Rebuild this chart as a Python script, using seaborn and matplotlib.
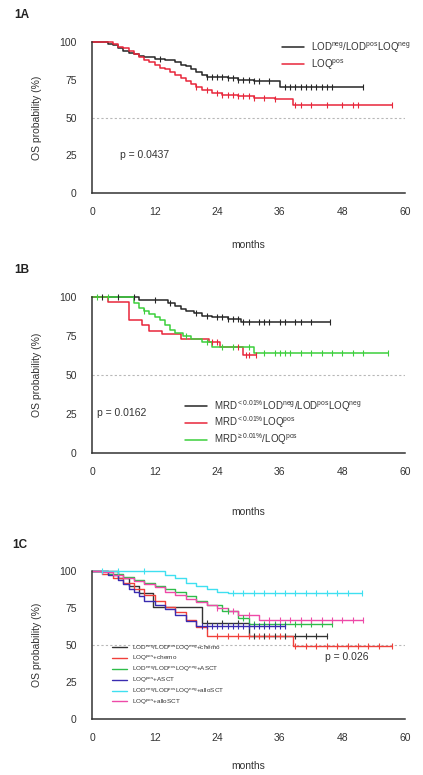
import numpy as np
import pandas as pd
import matplotlib
matplotlib.use("Agg")
import matplotlib.pyplot as plt
import seaborn as sns

# ---------------- data ----------------
x_ticks = [0, 12, 24, 36, 48, 60]
y_ticks = [0, 25, 50, 75, 100]

# Panel 1A
a_black_t = [3, 4, 5, 6, 7, 8, 9, 10, 12, 14, 16, 17, 18, 19, 20, 21, 22, 26, 28, 31, 36]
a_black_s = [99, 98, 96, 94, 93, 92, 91, 90, 89, 88, 87, 85, 84, 82, 80, 78, 77, 76, 75, 74, 70]
a_black_c = [13, 22, 23, 24, 25, 26, 27, 28, 29, 30, 31, 32, 34, 37, 38, 39, 40, 41, 42, 43, 44, 45, 46, 52]
a_red_t = [4, 5, 6, 7, 8, 9, 10, 11, 12, 13, 14, 15, 16, 17, 18, 19, 20, 21, 23, 25, 28, 31, 35, 38.5]
a_red_s = [99, 97, 96, 94, 92, 90, 88, 87, 85, 83, 82, 80, 78, 76, 74, 72, 70, 68, 66, 65, 64, 63, 62, 58]
a_red_c = [20, 22, 24, 25, 26, 27, 28, 29, 30, 31, 33, 35, 39, 40, 42, 45, 48, 50, 51, 57.5]
a_labels = ["LOD$^{neg}$/LOD$^{pos}$LOQ$^{neg}$", "LOQ$^{pos}$"]
a_p = "p = 0.0437"

# Panel 1B
b_black_t = [9, 14.5, 16, 17, 18, 19.5, 21, 23, 26, 28.5]
b_black_s = [98, 96, 94, 92, 91, 90, 88, 87, 86, 84]
b_black_c = [2, 5, 8, 12, 15, 20, 22, 24, 25, 26, 27, 28, 29, 30, 32, 33, 34, 36, 37, 39, 40, 42, 45.6]
b_red_t = [3, 7, 9.5, 11, 13.5, 17, 22.5, 24.5, 29]
b_red_s = [97, 85, 82, 78, 76, 73, 71, 68, 63]
b_red_c = [23, 24, 28, 29.5, 30, 31.5]
b_green_t = [8, 9, 10, 11, 12, 13, 14, 15, 16, 17.5, 19, 21, 23, 31]
b_green_s = [96, 93, 91, 89, 87, 85, 82, 79, 77, 75, 73, 71, 68, 64]
b_green_c = [1, 3, 10, 18, 22, 25, 27, 30, 33, 35, 36, 37, 38, 40, 42, 44, 46, 48, 50, 52, 56.8]
b_labels = ["MRD$^{<0.01\\%}$LOD$^{neg}$/LOD$^{pos}$LOQ$^{neg}$",
            "MRD$^{<0.01\\%}$LOQ$^{pos}$",
            "MRD$^{\\geq0.01\\%}$/LOQ$^{pos}$"]
b_p = "p = 0.0162"

# Panel 1C
c_black_t = [5, 7, 9, 11.7, 21, 30]
c_black_s = [95, 90, 85, 76, 65, 56]
c_black_c = [22, 25, 28, 31, 33, 35, 37, 39, 41, 43, 45]
c_red_t = [2, 4, 6, 8, 10, 12, 14, 16, 18, 20, 22, 38.5]
c_red_s = [98, 95, 92, 88, 84, 80, 76, 72, 67, 62, 56, 49]
c_red_c = [24, 26, 28, 30, 32, 34, 36, 39, 41, 43, 45, 47, 49, 51, 53, 55, 57.5]
c_green_t = [3, 6, 8, 10, 12, 14, 16, 18, 20, 22, 25, 28, 30]
c_green_s = [98, 96, 94, 92, 90, 88, 86, 83, 80, 77, 73, 68, 64]
c_green_c = [26, 29, 31, 33, 35, 37, 39, 40, 42, 44, 46]
c_blue_t = [3, 5, 6, 7, 8, 9, 10, 12, 14, 16, 18, 20]
c_blue_s = [97, 94, 91, 88, 86, 83, 80, 77, 74, 70, 66, 63]
c_blue_c = [21, 22, 23, 24, 25, 26, 27, 28, 29, 30, 31, 32, 33, 34, 35, 36, 37]
c_cyan_t = [14, 16, 18, 20, 22, 24, 26]
c_cyan_s = [97, 95, 92, 90, 88, 86, 85]
c_cyan_c = [2, 5, 10, 27, 29, 31, 33, 35, 37, 39, 41, 43, 45, 47, 49, 51.7]
c_mag_t = [2, 4, 6, 8, 10, 12, 14, 16, 18, 20, 22, 24, 26, 28, 32]
c_mag_s = [99, 97, 95, 93, 91, 89, 86, 84, 81, 79, 77, 75, 73, 70, 67]
c_mag_c = [24, 27, 30, 34, 36, 38, 40, 42, 44, 46, 48, 50, 52]
c_labels = ["LOD$^{neg}$/LOD$^{pos}$LOQ$^{neg}$+chemo",
            "LOQ$^{pos}$+chemo",
            "LOD$^{neg}$/LOD$^{pos}$LOQ$^{neg}$+ASCT",
            "LOQ$^{pos}$+ASCT",
            "LOD$^{neg}$/LOD$^{pos}$LOQ$^{neg}$+alloSCT",
            "LOQ$^{pos}$+alloSCT"]
c_p = "p = 0.026"

# ---------------- style ----------------
sns.set_style("white")
plt.rcParams["font.family"] = ["Liberation Sans", "DejaVu Sans"]
plt.rcParams["mathtext.fontset"] = "custom"
plt.rcParams["mathtext.rm"] = "Liberation Sans"
plt.rcParams["mathtext.it"] = "Liberation Sans"
plt.rcParams["mathtext.bf"] = "Liberation Sans:bold"
TXT = "#333333"
AXC = "#333333"

fig = plt.figure(figsize=(4.23, 7.75), dpi=100)


def km(ax, times, surv, cens, color, label, lw=1.1):
    end = max(cens)
    xs = [0] + list(times) + [end]
    ys = [100] + list(surv) + [surv[-1]]
    df = pd.DataFrame({"t": xs, "s": ys})
    sns.lineplot(data=df, x="t", y="s", ax=ax, color=color, lw=lw,
                 drawstyle="steps-post", estimator=None, sort=False,
                 label=label, clip_on=False)
    t_arr = np.array(times)
    s_arr = np.array(surv)
    cy = []
    for c in cens:
        i = np.searchsorted(t_arr, c, side="right") - 1
        cy.append(100 if i < 0 else s_arr[i])
    cdf = pd.DataFrame({"t": cens, "s": cy})
    sns.scatterplot(data=cdf, x="t", y="s", ax=ax, marker="|", color=color,
                    s=22, linewidth=0.8, legend=False, clip_on=False, zorder=3)


def style_axes(ax, xlabel_y, panel, panel_xy):
    ax.set_xlim(0, 60)
    ax.set_ylim(0, 100)
    ax.axhline(50, color="#b8b8b8", lw=0.8, ls=(0, (2, 2)), zorder=0)
    for s in ["top", "right"]:
        ax.spines[s].set_visible(False)
    for s in ["left", "bottom"]:
        ax.spines[s].set_color(AXC)
        ax.spines[s].set_linewidth(1.1)
    ax.set_xticks(x_ticks)
    ax.set_yticks(y_ticks)
    ax.tick_params(axis="both", direction="out", length=4, width=1.0,
                   colors=AXC, labelsize=7.5, labelcolor=TXT)
    ax.tick_params(axis="x", pad=6)
    ax.tick_params(axis="y", pad=7)
    ax.set_xlabel("months", fontsize=7.5, color=TXT)
    ax.set_ylabel("OS probability (%)", fontsize=7.5, color=TXT)
    ax.xaxis.set_label_coords(0.5, xlabel_y)
    ax.yaxis.set_label_coords(-0.16, 0.5)
    fig.text(panel_xy[0], panel_xy[1], panel, fontsize=8.5, fontweight="bold",
             color="#222222", ha="left", va="center")


W = 423.0
H = 775.0


def make_ax(top_px, bot_px):
    left = 92 / W
    width = (405 - 92) / W
    bottom = 1 - bot_px / H
    height = (bot_px - top_px) / H
    return fig.add_axes([left, bottom, width, height])


# ----- 1A -----
axA = make_ax(42, 193)
km(axA, a_black_t, a_black_s, a_black_c, "#262626", a_labels[0])
km(axA, a_red_t, a_red_s, a_red_c, "#e8263a", a_labels[1])
style_axes(axA, -0.31, "1A", (14 / W, 1 - 15 / H))
axA.legend(loc="upper left", bbox_to_anchor=(0.58, 1.07), frameon=False,
           fontsize=7, handlelength=2.2, labelspacing=0.3, labelcolor=TXT)
axA.text(0.09, 0.25, a_p, transform=axA.transAxes, fontsize=7.5, color=TXT,
         va="center", ha="left")

# ----- 1B -----
axB = make_ax(297, 453)
km(axB, b_black_t, b_black_s, b_black_c, "#262626", b_labels[0])
km(axB, b_red_t, b_red_s, b_red_c, "#e8263a", b_labels[1])
km(axB, b_green_t, b_green_s, b_green_c, "#3ccf3c", b_labels[2])
style_axes(axB, -0.345, "1B", (14 / W, 1 - 270 / H))
axB.legend(loc="upper left", bbox_to_anchor=(0.27, 0.41), frameon=False,
           fontsize=7, handlelength=2.2, labelspacing=0.1, labelcolor=TXT)
axB.text(0.016, 0.256, b_p, transform=axB.transAxes, fontsize=7.5, color=TXT,
         va="center", ha="left")

# ----- 1C -----
axC = make_ax(571, 719)
km(axC, c_black_t, c_black_s, c_black_c, "#333333", c_labels[0], 1.0)
km(axC, c_red_t, c_red_s, c_red_c, "#f0403a", c_labels[1], 1.0)
km(axC, c_green_t, c_green_s, c_green_c, "#2ebd4a", c_labels[2], 1.0)
km(axC, c_blue_t, c_blue_s, c_blue_c, "#3a2cb0", c_labels[3], 1.0)
km(axC, c_cyan_t, c_cyan_s, c_cyan_c, "#3fe0f0", c_labels[4], 1.0)
km(axC, c_mag_t, c_mag_s, c_mag_c, "#ee4aa8", c_labels[5], 1.0)
style_axes(axC, -0.284, "1C", (12 / W, 1 - 545 / H))
axC.legend(loc="upper left", bbox_to_anchor=(0.045, 0.55), frameon=False,
           fontsize=4.6, handlelength=2.4, labelspacing=0.25, labelcolor=TXT)
axC.text(0.745, 0.42, c_p, transform=axC.transAxes, fontsize=7.5, color=TXT,
         va="center", ha="left")

fig.savefig("out.png", dpi=100)
